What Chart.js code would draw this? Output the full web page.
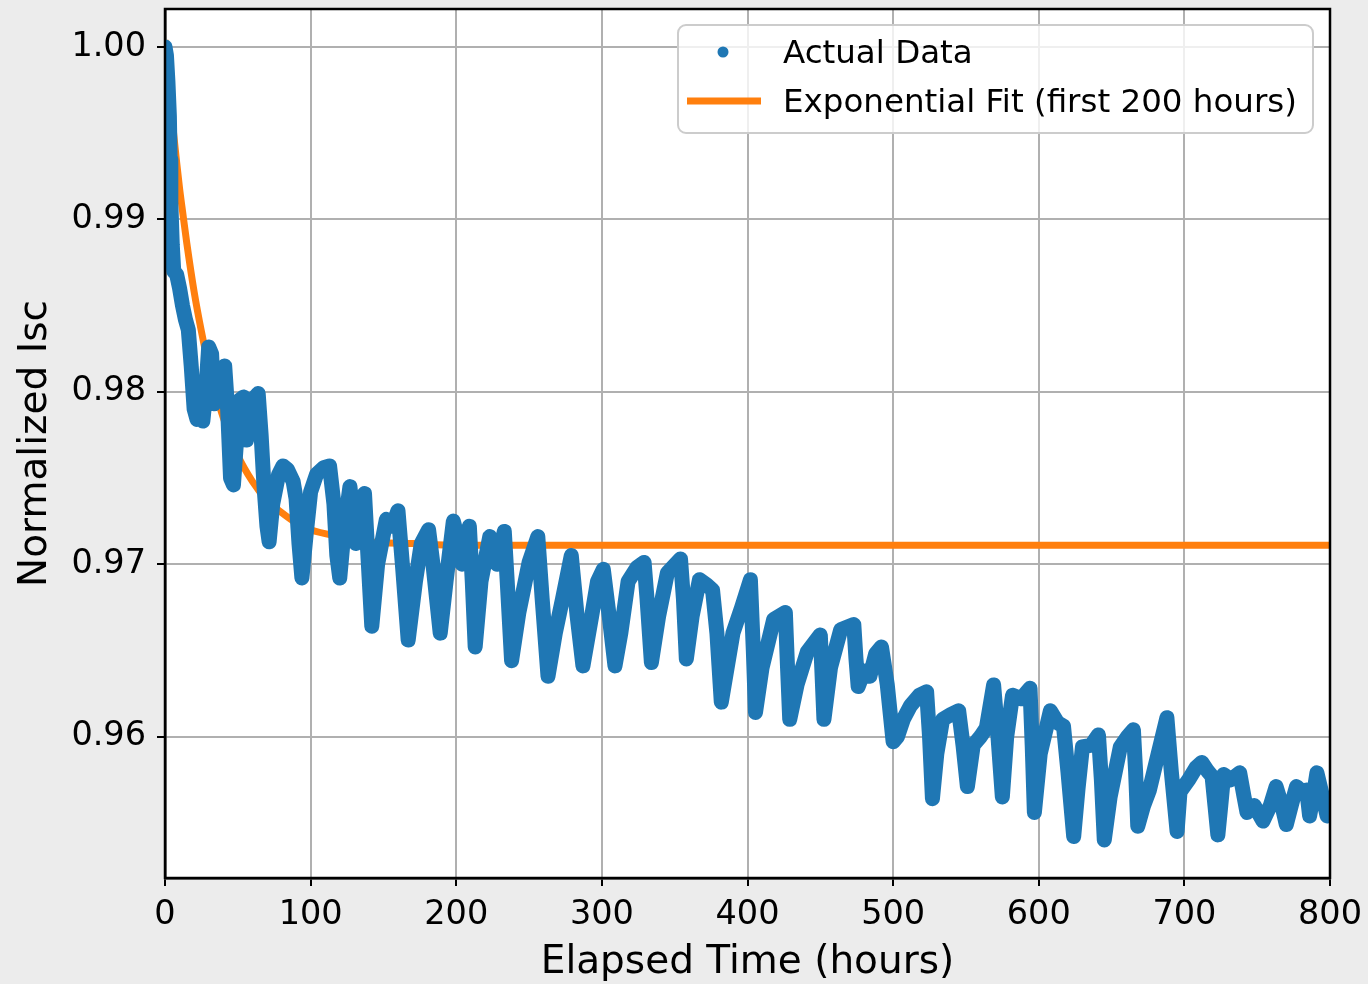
<!DOCTYPE html>
<html>
<head>
<meta charset="utf-8">
<script src="https://cdn.jsdelivr.net/npm/chart.js@4.4.1/dist/chart.umd.min.js"></script>
<style>
  html, body { margin: 0; padding: 0; background: #ececec; overflow: hidden; }
  #c { display: block; }
</style>
</head>
<body>
<canvas id="c" width="1368" height="984"></canvas>
<script>
// ---- data ----
const hours = [
  0, 1, 2, 3, 3.5, 4, 5, 6, 8, 10, 12, 14, 16, 18, 20, 22, 24, 26, 28, 30,
  32, 33.5, 35, 38, 41, 43, 45, 47, 49, 51, 54, 56, 58, 62, 64, 66, 68, 70, 71.5, 74,
  78, 81, 84, 88, 90, 92, 94, 97, 100, 104, 109, 113, 116, 118, 120, 123, 127, 131, 134, 137,
  139, 142, 146, 152, 156, 160, 163, 167, 172, 176, 181, 184, 189, 193, 198, 201, 204, 209, 211, 213,
  217, 223, 228, 233, 235, 238, 243, 250, 256, 259, 263, 268, 273, 279, 283, 287, 293, 297, 301, 305,
  309, 313, 318, 324, 329, 331, 334, 339, 345, 354, 356, 358, 362, 367, 372, 376, 379, 382, 386, 390,
  396, 402, 404, 405.5, 410, 418, 426, 427.5, 429, 434, 441, 450, 451, 452.5, 457, 464, 473, 474.5, 476, 480,
  484, 488, 492, 496, 500, 503, 507, 512, 518, 523, 525, 527, 530, 534, 540, 545, 548, 551, 555, 560,
  564, 569, 572, 575, 578, 582, 588, 594, 595.5, 597, 601, 608, 613, 617, 620, 624, 627, 630, 636, 641,
  643, 645, 649, 656, 661, 665, 666.5, 668, 672, 676, 682, 688, 691, 695, 697, 703, 708, 712, 716, 719,
  721, 723, 725, 727, 732, 738, 741, 743, 748, 754, 759, 763, 767, 770, 774, 777, 781, 784, 786, 789,
  791, 795, 798, 800
];
const isc = [
  1.0000, 0.9995, 0.9980, 0.9960, 0.9935, 0.9910, 0.9885, 0.9870, 0.9868, 0.9860, 0.9850, 0.9842, 0.9836, 0.9815, 0.9790, 0.9784, 0.9790, 0.9783, 0.9800, 0.9826,
  0.9822, 0.9793, 0.9800, 0.9812, 0.9815, 0.9790, 0.9750, 0.9746, 0.9770, 0.9795, 0.9797, 0.9772, 0.9782, 0.9797, 0.9799, 0.9775, 0.9745, 0.9722, 0.9713, 0.9735,
  0.9752, 0.9757, 0.9755, 0.9748, 0.9738, 0.9712, 0.9692, 0.9718, 0.9742, 0.9752, 0.9756, 0.9757, 0.9735, 0.9705, 0.9692, 0.9720, 0.9745, 0.9712, 0.9730, 0.9741,
  0.9710, 0.9664, 0.9700, 0.9726, 0.9722, 0.9731, 0.9700, 0.9656, 0.9690, 0.9712, 0.9720, 0.9700, 0.9660, 0.9690, 0.9725, 0.9715, 0.9700, 0.9722, 0.9690, 0.9652,
  0.9690, 0.9716, 0.9700, 0.9719, 0.9690, 0.9644, 0.9672, 0.9701, 0.9716, 0.9680, 0.9635, 0.9660, 0.9680, 0.9705, 0.9670, 0.9641, 0.9670, 0.9690, 0.9697, 0.9670,
  0.9641, 0.9660, 0.9690, 0.9698, 0.9701, 0.9680, 0.9643, 0.9670, 0.9695, 0.9703, 0.9680, 0.9645, 0.9670, 0.9691, 0.9688, 0.9685, 0.9660, 0.9620, 0.9640, 0.9660,
  0.9675, 0.9691, 0.9650, 0.9614, 0.9640, 0.9668, 0.9672, 0.9640, 0.9610, 0.9630, 0.9649, 0.9659, 0.9640, 0.9610, 0.9640, 0.9662, 0.9665, 0.9645, 0.9629, 0.9638,
  0.9635, 0.9648, 0.9652, 0.9630, 0.9597, 0.9600, 0.9610, 0.9618, 0.9624, 0.9626, 0.9600, 0.9564, 0.9590, 0.9610, 0.9613, 0.9615, 0.9595, 0.9571, 0.9595, 0.9600,
  0.9605, 0.9630, 0.9600, 0.9565, 0.9600, 0.9624, 0.9622, 0.9628, 0.9595, 0.9556, 0.9590, 0.9615, 0.9608, 0.9606, 0.9580, 0.9542, 0.9570, 0.9594, 0.9595, 0.9601,
  0.9575, 0.9540, 0.9565, 0.9594, 0.9600, 0.9604, 0.9580, 0.9548, 0.9560, 0.9569, 0.9590, 0.9611, 0.9580, 0.9545, 0.9568, 0.9575, 0.9582, 0.9585, 0.9580, 0.9577,
  0.9560, 0.9543, 0.9560, 0.9578, 0.9575, 0.9579, 0.9565, 0.9556, 0.9560, 0.9551, 0.9560, 0.9571, 0.9560, 0.9549, 0.9562, 0.9571, 0.9568, 0.9569, 0.9554, 0.9568,
  0.9579, 0.9565, 0.9554, 0.9560
];
const fitHours = [0, 2, 4, 6, 8, 10, 12, 15, 20, 25, 30, 35, 40, 50, 60, 70, 80, 90, 100, 120, 140, 170, 200, 300, 400, 500, 600, 700, 800];
const fitIsc   = [1.0004, 0.9984, 0.9966, 0.9949, 0.9933, 0.9918, 0.9905, 0.9886, 0.9858, 0.9835, 0.9815, 0.9799, 0.9785, 0.9763, 0.9748, 0.9737, 0.9730, 0.9724, 0.9720, 0.9716, 0.9713, 0.9712, 0.9711, 0.9711, 0.9711, 0.9711, 0.9711, 0.9711, 0.9711];
const xTicks = [0, 100, 200, 300, 400, 500, 600, 700, 800];
const yTicks = [0.96, 0.97, 0.98, 0.99, 1.00];
const seriesLabels = ['Actual Data', 'Exponential Fit (first 200 hours)'];
const axisTitles = ['Elapsed Time (hours)', 'Normalized Isc'];

const BLUE = '#1f77b4', ORANGE = '#ff7f0e';
const FONT = 'DejaVu Sans';

const actual = hours.map((h, i) => ({ x: h, y: isc[i] }));
const fit = fitHours.map((h, i) => ({ x: h, y: fitIsc[i] }));

const bgPlugin = {
  id: 'bg',
  beforeDraw(chart) {
    const { ctx, chartArea: a } = chart;
    ctx.save();
    ctx.fillStyle = '#ececec';
    ctx.fillRect(0, 0, chart.width, chart.height);
    ctx.fillStyle = '#ffffff';
    ctx.fillRect(a.left, a.top, a.right - a.left, a.bottom - a.top);
    ctx.restore();
  }
};

const framePlugin = {
  id: 'frame',
  afterDatasetsDraw(chart) {
    const { ctx, chartArea: a } = chart;
    ctx.save();
    ctx.strokeStyle = '#000';
    ctx.lineWidth = 2.5;
    ctx.strokeRect(a.left, a.top, a.right - a.left, a.bottom - a.top);
    ctx.restore();
  }
};

const legendPlugin = {
  id: 'legendBox',
  afterDraw(chart) {
    const { ctx, chartArea: a } = chart;
    const w = 635, h = 108;
    const x0 = a.right - 17 - w, y0 = a.top + 16;
    ctx.save();
    ctx.beginPath();
    ctx.roundRect(x0, y0, w, h, 8);
    ctx.fillStyle = 'rgba(255,255,255,0.8)';
    ctx.fill();
    ctx.strokeStyle = '#cccccc';
    ctx.lineWidth = 2;
    ctx.stroke();
    const ds = chart.data.datasets;
    ctx.fillStyle = ds[0].borderColor;
    ctx.beginPath();
    ctx.arc(x0 + 45, y0 + 27, 5.5, 0, Math.PI * 2);
    ctx.fill();
    ctx.strokeStyle = ds[1].borderColor;
    ctx.lineWidth = 7;
    ctx.lineCap = 'butt';
    ctx.beginPath();
    ctx.moveTo(x0 + 9, y0 + 76);
    ctx.lineTo(x0 + 83, y0 + 76);
    ctx.stroke();
    ctx.fillStyle = '#000';
    ctx.font = '32.5px "' + FONT + '"';
    ctx.textBaseline = 'middle';
    ctx.textAlign = 'left';
    ctx.fillText(ds[0].label, x0 + 105, y0 + 30);
    ctx.fillText(ds[1].label, x0 + 105, y0 + 79);
    ctx.restore();
  }
};

new Chart(document.getElementById('c'), {
  type: 'scatter',
  data: {
    datasets: [
      {
        label: seriesLabels[0], data: actual, showLine: true,
        borderColor: BLUE, backgroundColor: BLUE, borderWidth: 15,
        pointRadius: 0, borderJoinStyle: 'round', borderCapStyle: 'round',
        tension: 0, clip: 0
      },
      {
        label: seriesLabels[1], data: fit, showLine: true,
        borderColor: ORANGE, backgroundColor: ORANGE, borderWidth: 7,
        pointRadius: 0, cubicInterpolationMode: 'monotone', clip: 0
      }
    ]
  },
  options: {
    responsive: false,
    animation: false,
    devicePixelRatio: 1,
    layout: { padding: { top: 9, right: 38, left: 0, bottom: 0 } },
    plugins: { legend: { display: false }, tooltip: { enabled: false } },
    scales: {
      x: {
        type: 'linear', min: 0, max: 800,
        afterBuildTicks: s => { s.ticks = xTicks.map(v => ({ value: v })); },
        afterFit: s => { s.height = 106; s.paddingLeft = 0; s.paddingRight = 0; },
        ticks: { autoSkip: false, maxRotation: 0, padding: 9, color: '#000',
          font: { family: FONT, size: 33.5 }, callback: v => String(v) },
        grid: { color: '#b0b0b0', lineWidth: 2, tickColor: '#000', tickLength: 8, tickWidth: 2 },
        border: { display: true, color: '#000', width: 2.5 },
        title: { display: true, text: axisTitles[0], color: '#000',
          font: { family: FONT, size: 39, lineHeight: 1.08 }, padding: { top: 0, bottom: 0 } }
      },
      y: {
        type: 'linear', min: 0.9518, max: 1.0022,
        afterBuildTicks: s => { s.ticks = yTicks.map(v => ({ value: v })); },
        afterFit: s => { s.width = 165; s.paddingTop = 0; s.paddingBottom = 0; },
        ticks: { autoSkip: false, padding: 11, color: '#000',
          font: { family: FONT, size: 33.5 }, callback: v => Number(v).toFixed(2) },
        grid: { color: '#b0b0b0', lineWidth: 2, tickColor: '#000', tickLength: 8, tickWidth: 2 },
        border: { display: true, color: '#000', width: 2.5 },
        title: { display: true, text: axisTitles[1], color: '#000',
          font: { family: FONT, size: 39 }, padding: { top: 12, bottom: 0 } }
      }
    }
  },
  plugins: [bgPlugin, framePlugin, legendPlugin]
});
</script>
</body>
</html>
